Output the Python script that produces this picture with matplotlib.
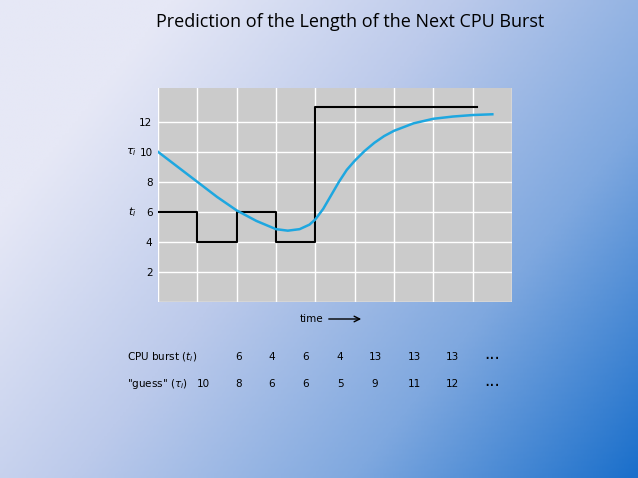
import numpy as np
import matplotlib.pyplot as plt
from matplotlib.colors import LinearSegmentedColormap

# data
burst = [6, 4, 6, 4, 13, 13, 13]
guess = [10, 8, 6, 6, 5, 9, 11, 12]
step_end = 8.1
curve_x = [0, 0.5, 1, 1.5, 2, 2.5, 3, 3.3, 3.6, 3.85, 4, 4.2, 4.4, 4.6, 4.8, 5, 5.25, 5.5, 5.75, 6, 6.5, 7, 7.5, 8, 8.5]
curve_y = [10, 9.0, 8.0, 7.0, 6.1, 5.4, 4.85, 4.75, 4.85, 5.15, 5.5, 6.2, 7.1, 8.0, 8.8, 9.4, 10.05, 10.6, 11.05, 11.4, 11.9, 12.2, 12.35, 12.45, 12.5]
yticks = [2, 4, 6, 8, 10, 12]

W, H = 638, 478
fig = plt.figure(figsize=(W / 100, H / 100), dpi=100)

# gradient background
bg = fig.add_axes([0, 0, 1, 1])
xx, yy = np.meshgrid(np.linspace(0, 1, 200), np.linspace(0, 1, 200))
t = np.clip(0.75 * xx + 0.45 * yy - 0.2, 0, 1)
cmap = LinearSegmentedColormap.from_list('bg', ['#e6e8f6', '#bccaeb', '#7fa8df', '#1a6fcb'])
bg.imshow(t, cmap=cmap, extent=[0, W, H, 0], aspect='auto')
bg.set_xlim(0, W)
bg.set_ylim(H, 0)
bg.axis('off')

ax = fig.add_axes([158 / W, 1 - 302 / H, 354 / W, 214 / H])
ax.set_facecolor('#cbcbcb')
ax.set_xlim(0, 9)
ax.set_ylim(0, 14.25)
ax.set_xticks(range(10))
ax.set_yticks(yticks + [0])
ax.set_yticklabels([str(v) for v in yticks] + [''], fontsize=7.5)
ax.set_xticklabels([])
ax.tick_params(length=0, pad=4)
ax.grid(True, color='white', lw=1)
ax.set_axisbelow(True)
for s in ax.spines.values():
    s.set_visible(False)

sx = list(range(len(burst))) + [step_end]
ax.step(sx, burst + [burst[-1]], where='post', color='black', lw=1.5)
ax.plot(curve_x, curve_y, color='#1ea7e0', lw=1.8)

ax.text(-0.55, 10, r'$\tau_i$', fontsize=8, ha='right', va='center')
ax.text(-0.55, 6, r'$t_i$', fontsize=8, ha='right', va='center')

fig.text(350 / W, 1 - 22 / H, 'Prediction of the Length of the Next CPU Burst',
         ha='center', va='center', fontsize=13, family='Open Sans')

bg.text(312, 319, 'time', fontsize=7.5, ha='center', va='center')
bg.annotate('', xy=(364, 319), xytext=(326, 319),
            arrowprops=dict(arrowstyle='->', lw=1, color='black'))

bg.text(127, 357, r'CPU burst ($t_i$)', fontsize=7.5, va='center')
bg.text(127, 384, r'"guess" ($\tau_i$)', fontsize=7.5, va='center')
cols = [203, 239, 272, 306, 340, 375, 414, 452]
for xp, v in zip(cols[1:], burst):
    bg.text(xp, 357, str(v), fontsize=7.5, ha='center', va='center')
for xp, v in zip(cols, guess):
    bg.text(xp, 384, str(v), fontsize=7.5, ha='center', va='center')
bg.text(492, 354, '...', fontsize=12, ha='center', va='center')
bg.text(492, 381, '...', fontsize=12, ha='center', va='center')

fig.savefig('out.png', dpi=100)
